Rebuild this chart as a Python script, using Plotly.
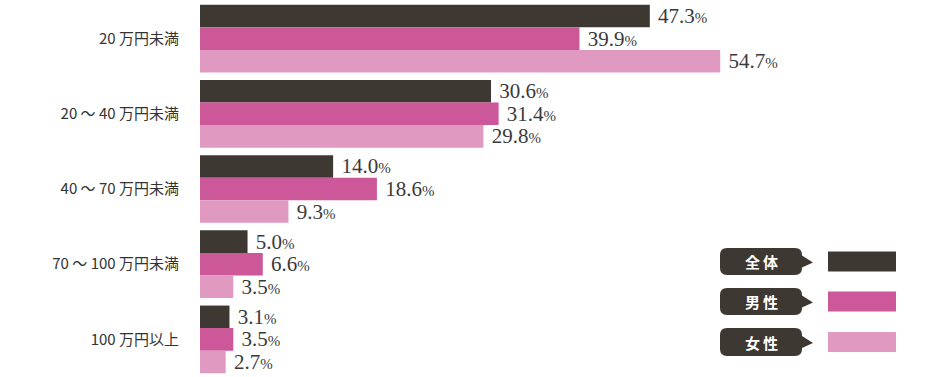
import plotly.graph_objects as go

categories = ["20 万円未満", "20 ～ 40 万円未満", "40 ～ 70 万円未満", "70 ～ 100 万円未満", "100 万円以上"]
series_names = ["全体", "男性", "女性"]
all_values = [47.3, 30.6, 14.0, 5.0, 3.1]
male_values = [39.9, 31.4, 18.6, 6.6, 3.5]
female_values = [54.7, 29.8, 9.3, 3.5, 2.7]

colors = ["#3e3833", "#cc5799", "#e09ac2"]

W, H = 940, 377
ML, MR, MT, MB = 200, 0, 1, 0
PW, PH = W - ML - MR, H - MT - MB
PX_PER_UNIT = 9.51


def px(x):
    return (x - ML) / PW


def py(y):
    return 1 - (y - MT) / PH


def label(v):
    return f" {v:.1f}<span style='font-size:15px'>%</span>"


fig = go.Figure()
for name, vals, col in zip(series_names, [all_values, male_values, female_values], colors):
    fig.add_trace(go.Bar(
        y=categories, x=vals, name=name, orientation="h",
        marker=dict(color=col, line=dict(width=0)),
        text=[label(v) for v in vals], textposition="outside",
        textfont=dict(family="Liberation Serif, Times New Roman, serif", size=21, color="#3a3a3a"),
        cliponaxis=False, constraintext="none", showlegend=False,
        hoverinfo="skip",
    ))

shapes = []
annotations = []
legend_rows = [(248, 275), (288, 315), (328, 356)]
for (y0, y1), name, col in zip(legend_rows, series_names, colors):
    x0, x1, r = 720, 802, 7
    ym = (y0 + y1) / 2
    tip = 813
    pts = [
        ("M", x0 + r, y0),
        ("L", x1 - r, y0),
        ("Q", x1, y0, x1, y0 + r),
        ("L", x1, ym - 6),
        ("L", tip, ym + 1),
        ("L", x1, ym + 6),
        ("L", x1, y1 - r),
        ("Q", x1, y1, x1 - r, y1),
        ("L", x0 + r, y1),
        ("Q", x0, y1, x0, y1 - r),
        ("L", x0, y0 + r),
        ("Q", x0, y0, x0 + r, y0),
    ]
    path = ""
    for p in pts:
        cmd = p[0]
        coords = p[1:]
        s = []
        for i in range(0, len(coords), 2):
            s.append(f"{px(coords[i]):.5f},{py(coords[i+1]):.5f}")
        path += cmd + " ".join(s) + " "
    path += "Z"
    shapes.append(dict(type="path", xref="paper", yref="paper", path=path,
                       fillcolor="#3e3833", line=dict(width=0)))
    shapes.append(dict(type="rect", xref="paper", yref="paper",
                       x0=px(828), x1=px(896), y0=py(ym + 10), y1=py(ym - 10),
                       fillcolor=col, line=dict(width=0)))
    annotations.append(dict(xref="paper", yref="paper", x=px(761), y=py(ym),
                            text="<b>" + "\u2009".join(name) + "</b>", showarrow=False,
                            font=dict(family="Noto Sans CJK JP", size=15, color="white"),
                            xanchor="center", yanchor="middle"))

fig.update_layout(
    width=W, height=H,
    margin=dict(l=ML, r=MR, t=MT, b=MB, pad=0),
    paper_bgcolor="white", plot_bgcolor="white",
    barmode="group", bargap=0.1, bargroupgap=0,
    xaxis=dict(range=[0, PW / PX_PER_UNIT], visible=False, fixedrange=True),
    yaxis=dict(autorange="reversed", showgrid=False, zeroline=False, showline=False,
               ticks="", ticklabelstandoff=20, fixedrange=True,
               tickfont=dict(family="Noto Sans CJK JP", size=15, color="#333333")),
    shapes=shapes, annotations=annotations,
)

fig.write_html("out.html", config={"displayModeBar": False},
               post_script="document.body.style.margin='0';document.body.style.overflow='hidden';")
